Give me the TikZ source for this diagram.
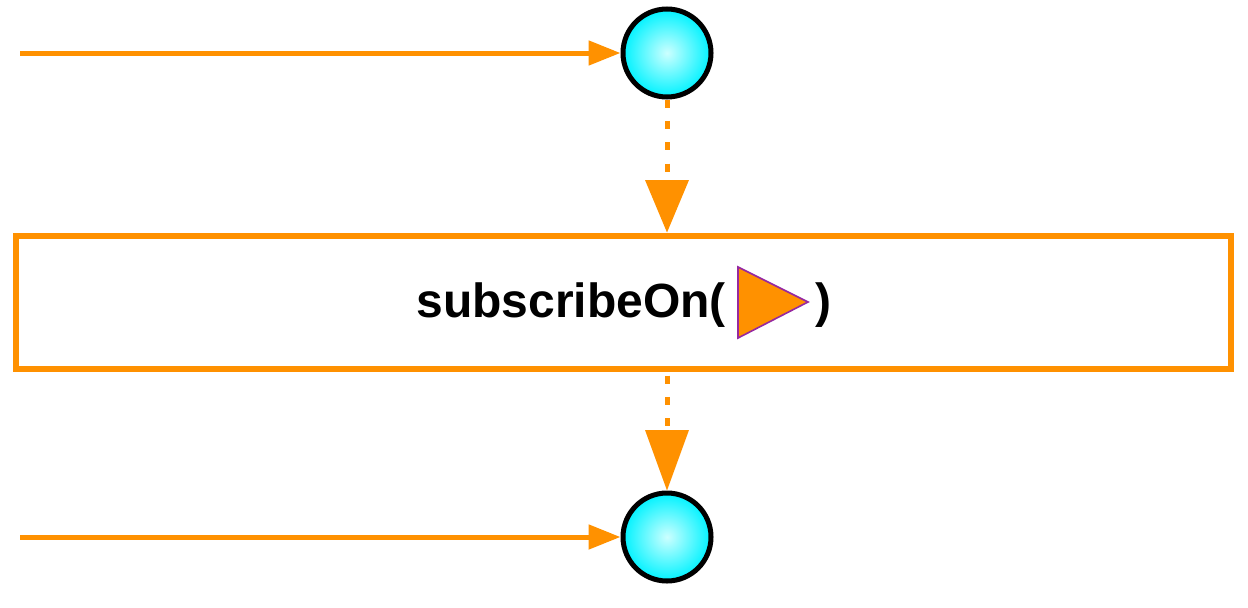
\documentclass[tikz,border=0pt]{standalone}
\usepackage{fontspec}
\setmainfont{Liberation Sans}
\usetikzlibrary{arrows.meta,shadows}
\definecolor{org}{RGB}{255,145,0}
\definecolor{purp}{RGB}{150,40,160}
\begin{document}
\begin{tikzpicture}[x=0.75pt,y=-0.75pt,
  line/.style={org,line width=5*0.75pt},
  dotl/.style={org,line width=5*0.75pt,dash pattern=on 6pt off 10pt},
  tip/.style={fill=org,draw=none},
  ball/.style={circle,minimum size=88*0.75pt,inner sep=0,draw=black,line width=5*0.75pt,shading=radial,inner color=cyan!20,outer color=cyan!95!blue}]
\useasboundingbox (0,0) rectangle (1248,607);
\node[ball] (c1) at (667,53) {};
\node[ball] (c2) at (667,537) {};
\coordinate (s1) at (20,53);
\coordinate (s2) at (20,537);
\draw[line,-{Triangle[length=32*0.75pt,width=24*0.75pt]}] (s1) -- (c1.west);
\draw[line,-{Triangle[length=32*0.75pt,width=24*0.75pt]}] (s2) -- (c2.west);
\node[draw=org,line width=6*0.75pt,fill=white,minimum width=1215*0.75pt,minimum height=133*0.75pt,inner sep=0,
  drop shadow={opacity=0.3,shadow xshift=2pt,shadow yshift=-2pt}] (box) at (623.5,302) {};
\draw[dotl] (c1.south) -- (667,180);
\fill[tip] (645,180) -- (689,180) -- (box.north -| c1) -- cycle;
\draw[dotl] (box.south -| c1) ++(0,4) -- (667,430);
\fill[tip] (645,430) -- (689,430) -- (c2.north) -- cycle;
\node[anchor=east,font=\fontsize{36}{36}\selectfont\bfseries,inner sep=0] (t1) at (726,305) {subscribeOn(};
\node[anchor=west,font=\fontsize{36}{36}\selectfont\bfseries,inner sep=0] (t2) at (815,305) {)};
\draw[purp,fill=org,line width=1.2pt] (738,267) -- (808,302) -- (738,338) -- cycle;
\end{tikzpicture}
\end{document}
